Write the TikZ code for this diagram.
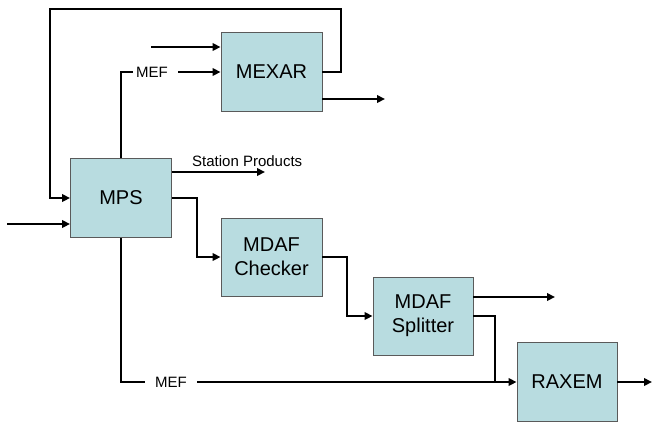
\documentclass[tikz,border=0pt]{standalone}
\usepackage{fontspec}
\setmainfont{Liberation Sans}
\usetikzlibrary{arrows.meta}
\definecolor{boxfill}{HTML}{B8DCE0}
\definecolor{boxline}{HTML}{5A5A5A}
\begin{document}
\begin{tikzpicture}[x=1pt,y=-1pt,
  block/.style={draw=boxline,line width=0.9pt,fill=boxfill,minimum width=101pt,
    minimum height=79pt,inner sep=0pt,align=center,font=\fontsize{20}{24}\selectfont},
  wire/.style={line width=2pt,black},
  flow/.style={wire,-{Triangle[length=8pt,width=7.5pt]}},
  tag/.style={inner sep=0pt,font=\fontsize{15}{18}\selectfont}]
\useasboundingbox (0,0) rectangle (652,424);

% processing blocks
\node[block] (mexar) at (271.5,72) {MEXAR};
\node[block] (mps) at (121,198) {MPS};
\node[block,minimum height=78pt] (checker) at (271.5,257) {MDAF\\Checker};
\node[block,minimum width=100pt,minimum height=78pt] (splitter) at (423,316) {MDAF\\Splitter};
\node[block,minimum width=100pt] (raxem) at (567,382) {RAXEM};

% free ends of connectors
\coordinate (inA) at (151,47);
\coordinate (outA) at (385,99);
\coordinate (inB) at (7,224);
\coordinate (spEnd) at (265,172);
\coordinate (outC) at (555,297);
\coordinate (outD) at (652,382);

% labels
\node[tag] (mefA) at (152,72) {MEF};
\node[tag] (mefB) at (171,382) {MEF};
\node[tag,anchor=south west] (sp) at (192,167) {Station Products};

% MEXAR feedback loop into MPS
\draw[flow] (mexar.east) -- ++(19,0) |- (50,9) |- (mps.west);
\draw[flow] (inA) -- (mexar.west |- inA);
\draw[wire] (mps.north) |- ([xshift=-3pt]mefA.west);
\draw[flow] ([xshift=10pt]mefA.east) -- (mexar.west);
\draw[flow] (mexar.east |- outA) -- (outA);

% MPS outputs
\draw[flow] (mps.east |- spEnd) -- (spEnd);
\draw[flow] (inB) -- (mps.west |- inB);
\draw[flow] (mps.east) -- ++(25,0) |- (checker.west);
\draw[wire] (mps.south) |- ([xshift=-10pt]mefB.west);
\draw[flow] ([xshift=10pt]mefB.east) -- (raxem.west);

% MDAF chain
\draw[flow] (checker.east) -- ++(25,0) |- (splitter.west);
\draw[flow] (splitter.east |- outC) -- (outC);
\draw[wire] (splitter.east) -- ++(22,0) -- ++(0,66);
\draw[flow] (raxem.east) -- (outD);
\end{tikzpicture}
\end{document}
